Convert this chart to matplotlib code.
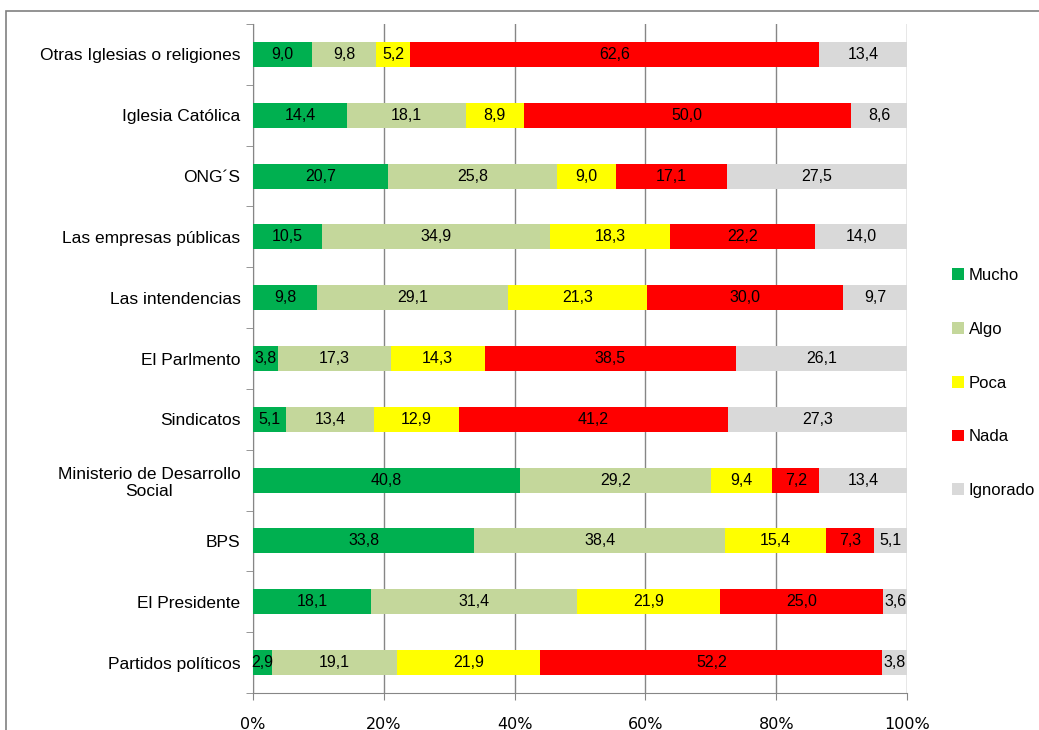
import matplotlib
matplotlib.use('Agg')
import matplotlib.pyplot as plt
from matplotlib.patches import Rectangle
import numpy as np

# categories from top to bottom, as in the chart
categorias = ["Otras Iglesias o religiones", "Iglesia Católica", "ONG´S",
              "Las empresas públicas", "Las intendencias", "El Parlmento",
              "Sindicatos", "Ministerio de Desarrollo\nSocial", "BPS",
              "El Presidente", "Partidos políticos"]
series = ["Mucho", "Algo", "Poca", "Nada", "Ignorado"]
mucho = [9.0, 14.4, 20.7, 10.5, 9.8, 3.8, 5.1, 40.8, 33.8, 18.1, 2.9]
algo = [9.8, 18.1, 25.8, 34.9, 29.1, 17.3, 13.4, 29.2, 38.4, 31.4, 19.1]
poca = [5.2, 8.9, 9.0, 18.3, 21.3, 14.3, 12.9, 9.4, 15.4, 21.9, 21.9]
nada = [62.6, 50.0, 17.1, 22.2, 30.0, 38.5, 41.2, 7.2, 7.3, 25.0, 52.2]
ignorado = [13.4, 8.6, 27.5, 14.0, 9.7, 26.1, 27.3, 13.4, 5.1, 3.6, 3.8]
colores = ["#00B050", "#C4D79B", "#FFFF00", "#FF0000", "#D9D9D9"]

plt.rcParams['font.family'] = ['Liberation Sans Narrow', 'Liberation Sans', 'DejaVu Sans']

datos = np.array([mucho, algo, poca, nada, ignorado])
pct = datos / datos.sum(axis=0) * 100

fig = plt.figure(figsize=(10.39, 7.30), dpi=100)
ax = fig.add_axes([253/1039, 1 - 693/730, (907-253)/1039, (693-24)/730])

# borde del grafico (cortado a la derecha y abajo)
fig.add_artist(Rectangle((6/1039, -0.05), 1.1, 1 - 11/730 + 0.05,
                         transform=fig.transFigure, fill=False,
                         edgecolor="#808080", linewidth=1.2))

y = np.arange(len(categorias))
izq = np.zeros(len(categorias))
for i, s in enumerate(series):
    ax.barh(y, pct[i], left=izq, height=0.41, color=colores[i], label=s, zorder=3)
    for j in range(len(categorias)):
        ax.text(izq[j] + pct[i][j] / 2, y[j], f"{datos[i][j]:.1f}".replace('.', ','),
                ha='center', va='center', fontsize=11.5, zorder=4)
    izq += pct[i]

ax.set_xlim(0, 100)
ax.set_ylim(len(categorias) - 0.5, -0.5)
ax.set_xticks([0, 20, 40, 60, 80, 100])
ax.set_xticklabels(["0%", "20%", "40%", "60%", "80%", "100%"], fontsize=11.5,
                   family=['Liberation Sans Narrow', 'DejaVu Sans'])
ax.set_yticks(y)
ax.set_yticklabels(categorias, fontsize=12.5, family=['Liberation Sans', 'DejaVu Sans'],
                   multialignment='center')
ax.set_yticks(np.arange(len(categorias) + 1) - 0.5, minor=True)
ax.tick_params(axis='y', which='major', length=0, pad=9)
ax.tick_params(axis='y', which='minor', length=5, color="#868686")
ax.tick_params(axis='x', length=5, color="#868686", pad=12)
ax.grid(axis='x', color="#868686", linewidth=1, zorder=0)
for lado in ['top', 'right']:
    ax.spines[lado].set_visible(False)
for lado in ['left', 'bottom']:
    ax.spines[lado].set_color("#868686")

leg = fig.legend(*ax.get_legend_handles_labels(), loc='center left',
                 bbox_to_anchor=(937/1039, 1 - 383/730), frameon=False,
                 handlelength=0.7, handleheight=0.7,
                 handletextpad=0.3, labelspacing=2.33,
                 prop={'family': ['Liberation Sans', 'DejaVu Sans'], 'size': 12})

fig.savefig("out.png", dpi=100)
